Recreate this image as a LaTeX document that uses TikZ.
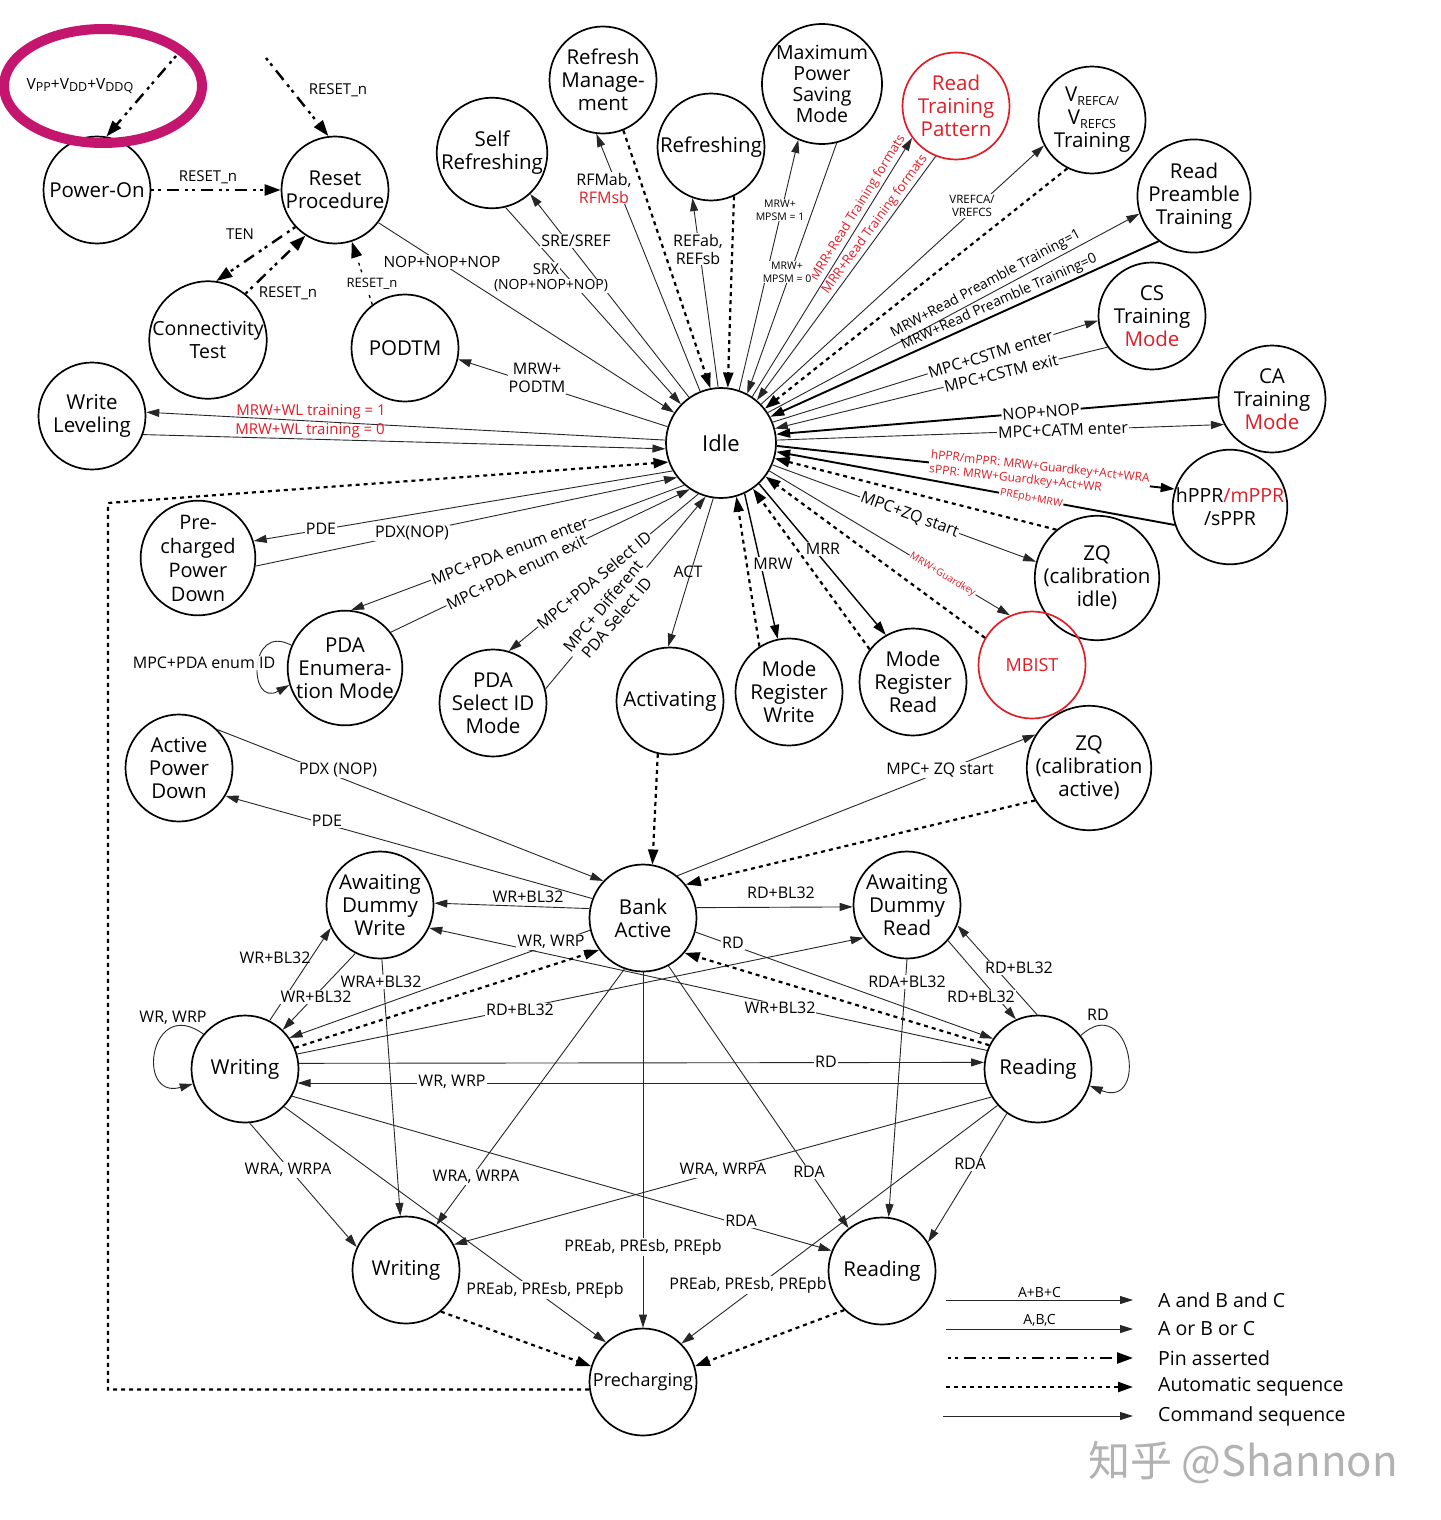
\documentclass[tikz,border=0pt]{standalone}
\usepackage{fontspec}
\setmainfont{Open Sans}
\newfontfamily\cjkf{Noto Sans CJK SC}
\usetikzlibrary{arrows.meta}
\definecolor{myred}{RGB}{225,30,40}
\definecolor{pinkm}{RGB}{196,22,110}
\newcommand\lsub[1]{\raisebox{-0.35ex}{\fontsize{12.5}{12.5}\selectfont #1}}
\tikzset{
 stn/.style={circle, draw, line width=1.7pt, minimum size=107pt, inner sep=0pt, align=center, font=\fontsize{20.5}{23}\selectfont},
 lab/.style={font=\fontsize{16}{18}\selectfont, fill=white, inner sep=1pt, align=center},
 labn/.style={font=\fontsize{16}{18}\selectfont, inner sep=1pt, align=center},
 labm/.style={font=\fontsize{15}{17}\selectfont, inner sep=1pt, align=center},
 labs/.style={font=\fontsize{10.5}{13}\selectfont, fill=white, inner sep=1pt, align=center},
 rlab/.style={font=\fontsize{13}{15}\selectfont, text=myred, inner sep=1pt},
 plab/.style={font=\fontsize{14}{16}\selectfont, inner sep=1pt},
 cmd/.style={line width=0.9pt, draw=black!85, -{Triangle[length=13pt,width=8pt]}},
 thk/.style={line width=1.9pt, draw=black, -{Triangle[length=14pt,width=9pt]}},
 mid/.style={line width=1.4pt, draw=black, -{Triangle[length=14pt,width=9pt]}},
 autoseq/.style={line width=2.2pt, dash pattern=on 4pt off 4pt, -{Triangle[length=15pt,width=10pt]}},
 pinas/.style={line width=2.4pt, dash pattern=on 3pt off 4pt on 3pt off 6pt on 12pt off 6pt, -{Triangle[length=16pt,width=11pt]}},
 pinthin/.style={pinas, line width=1.3pt},
}
\begin{document}
\begin{tikzpicture}[x=1pt,y=-1pt]
\useasboundingbox (0,0) rectangle (1440,1520);
\fill[white] (0,0) rectangle (1440,1520);

% ---------------- states
\node[stn] (pow) at (97,190) {Power-On};
\node[stn] (rst) at (335,190) {Reset\\Procedure};
\node[stn, font=\fontsize{19.5}{23}\selectfont] (con) at (208,340) {Connectivity\\Test};
\node[stn] (podtm) at (405,348) {PODTM};
\node[stn] (wl) at (92,416) {Write\\Leveling};
\node[stn] (sr) at (492,153) {Self\\Refreshing};
\node[stn] (rfm) at (603,80) {Refresh\\Manage-\\ment};
\node[stn] (ref) at (711,147) {Refreshing};
\node[stn, font=\fontsize{19.5}{21}\selectfont] (mpsm) at (822,84) {Maximum\\Power\\Saving\\Mode};
\node[stn, draw=myred, text=myred] (rtp) at (956,106) {Read\\Training\\Pattern};
\node[stn] (vref) at (1092,120) {V\lsub{REFCA/}\\V\lsub{REFCS}\\Training};
\node[stn] (rpt) at (1194,196) {Read\\Preamble\\Training};
\node[stn] (cs) at (1152,316) {CS\\Training\\\textcolor{myred}{Mode}};
\node[stn] (ca) at (1272,399) {CA\\Training\\\textcolor{myred}{Mode}};
\node[stn, font=\fontsize{19.5}{23}\selectfont] (ppr) at (1230,507) {hPPR\textcolor{myred}{/mPPR}\\/sPPR};
\node[stn] (zqi) at (1097,578) {ZQ\\(calibration\\idle)};
\node[stn, draw=myred, text=myred, font=\fontsize{18}{20}\selectfont] (mbist) at (1032,665) {MBIST};
\node[stn] (mrr) at (913,682) {Mode\\Register\\Read};
\node[stn] (mrw) at (789,692) {Mode\\Register\\Write};
\node[stn] (act) at (670,701) {Activating};
\node[stn] (pdas) at (493,703) {PDA\\Select ID\\Mode};
\node[stn] (pdae) at (345,668) {PDA\\Enumera-\\tion Mode};
\node[stn, font=\fontsize{20}{24}\selectfont] (ppd) at (198,558) {Pre-\\charged\\Power\\Down};
\node[stn, minimum size=110pt, font=\fontsize{22}{24}\selectfont] (idle) at (721,443) {Idle};
\node[stn] (apd) at (179,768) {Active\\Power\\Down};
\node[stn] (zqa) at (1089,768) {ZQ\\(calibration\\active)};
\node[stn] (adw) at (380,905) {Awaiting\\Dummy\\Write};
\node[stn] (ba) at (643,918) {Bank\\Active};
\node[stn] (adr) at (907,905) {Awaiting\\Dummy\\Read};
\node[stn] (wr) at (245,1069) {Writing};
\node[stn] (rd) at (1038,1069) {Reading};
\node[stn] (wb) at (406,1270) {Writing};
\node[stn] (rb) at (882,1271) {Reading};
\node[stn, font=\fontsize{18}{20}\selectfont] (pre) at (643,1382) {Precharging};

% ---------------- power-up / reset
\coordinate (c1) at (176,56);
\coordinate (c2) at (266,58);
\draw[pinas] (c1) -- (pow.80);
\draw[pinas] (c2) -- (rst.97);
\draw[pinas] (pow.0) -- (rst.180);
\draw[pinas] (rst.223) -- (con.82);
\draw[pinas] (con.51) -- (rst.237);
\draw[pinthin] (podtm.127) -- (rst.-72);
\draw[cmd] (rst.-37) -- (idle.147);
\draw[cmd] (idle.163) -- (podtm.-12);
\draw[cmd] (idle.177) -- (wl.4);
\draw[cmd] (wl.-20) -- (idle.-174);

% ---------------- idle fan (top)
\draw[cmd] (idle.125) -- (sr.-47);
\draw[cmd] (sr.-76) -- (idle.136);
\draw[cmd] (idle.112) -- (rfm.-97);
\draw[autoseq] (rfm.-68) -- (idle.101);
\draw[cmd] (idle.93) -- (ref.-110);
\draw[autoseq] (ref.-65) -- (idle.83);
\draw[cmd] (idle.71) -- (mpsm.-113);
\draw[cmd] (mpsm.-76) -- (idle.62);
\draw[cmd] (idle.56) -- node[pos=.71, sloped, above=1pt, rlab] (t19) {MRR+Read Training formats} (rtp.-144);
\draw[cmd] (rtp.-112) -- (idle.50);
\path (idle.50) -- node[pos=.70, sloped, above=1pt, rlab] (t20) {MRR+Read Training formats} (rtp.-112);
\draw[cmd] (idle.44) -- (vref.-152);
\draw[autoseq] (vref.-117) -- (idle.38);
\draw[cmd] (idle.33) -- node[pos=.60, sloped, above=2pt, plab] (t23) {MRW+Read Preamble Training=1} (rpt.-162);
\draw[thk] (rpt.-128) -- (idle.28);
\path (idle.28) -- node[pos=.60, sloped, above=2pt, plab] (t24) {MRW+Read Preamble Training=0} (rpt.-128);
\draw[cmd] (idle.22) -- node[pos=.67, sloped, lab] (t25) {MPC+CSTM enter} (cs.-175);
\draw[cmd] (cs.-145) -- (idle.15);
\path (idle.15) -- node[pos=.68, sloped, lab] (t26) {MPC+CSTM exit} (cs.-145);
\draw[thk] (ca.178) -- (idle.9);
\path (idle.9) -- node[pos=.60, sloped, lab] (t27) {NOP+NOP} (ca.178);
\draw[cmd] (idle.3) -- node[pos=.64, sloped, lab] (t28) {MPC+CATM enter} (ca.-152);

% ---------------- idle fan (right / bottom)
\draw[thk] (idle.-3) -- node[pos=.66, sloped, font=\fontsize{12}{14.5}\selectfont, text=myred, fill=white, inner sep=1pt, align=left] (t29) {hPPR/mPPR: MRW+Guardkey+Act+WRA\\sPPR: MRW+Guardkey+Act+WR} (ppr.162);
\draw[thk] (ppr.-162) -- (idle.-9);
\path (idle.-9) -- node[pos=.64, sloped, font=\fontsize{10.5}{12}\selectfont, text=myred, fill=white, inner sep=1pt] (t30) {PREpb+MRW} (ppr.-162);
\draw[autoseq] (zqi.130) -- (idle.-16);
\draw[cmd] (idle.-23) -- node[pos=.52, sloped, lab] (t31) {MPC+ZQ start} (zqi.165);
\draw[cmd] (idle.-30) -- node[pos=.72, sloped, font=\fontsize{10}{12}\selectfont, text=myred, fill=white, inner sep=1pt] (t32) {MRW+Guardkey} (mbist.114);
\draw[autoseq] (mbist.150) -- (idle.-37);
\draw[mid] (idle.-47) -- (mrr.120);
\draw[autoseq] (mrr.143) -- (idle.-55);
\draw[mid] (idle.-65) -- (mrw.102);
\draw[autoseq] (mrw.123) -- (idle.-74);
\draw[cmd] (idle.-98) -- (act.92);
\draw[autoseq] (act.-103) -- (ba.80);
\draw[cmd] (idle.-114) -- node[pos=.55, sloped, lab] (t41) {MPC+PDA Select ID} (pdas.73);
\draw[cmd] (pdas.15) -- node[pos=.40, sloped, lab] (t42) {MPC+ Different\\PDA Select ID} (idle.-106);
\draw[cmd] (idle.-131) -- node[pos=.524, sloped, lab] (t43) {MPC+PDA enum enter} (pdae.84);
\draw[cmd] (pdae.38) -- node[pos=.42, sloped, lab] (t44) {MPC+PDA enum exit} (idle.-124);
\draw[cmd] (pdae.157) .. controls (248,622) and (248,708) .. (pdae.197);
\draw[cmd] (idle.-150) -- (ppd.17);
\draw[cmd] (ppd.-8) -- (idle.-142);
\coordinate (lp) at (108,503);
\draw[autoseq] (pre.188) -| (lp) -- (idle.-160);

% ---------------- bank active area
\draw[cmd] (apd.45) -- (ba.137);
\draw[cmd] (ba.159) -- (apd.-31);
\draw[cmd] (ba.51) -- (zqa.148);
\draw[autoseq] (zqa.211) -- (ba.38);
\draw[cmd] (ba.170) -- (adw.2);
\draw[cmd] (wr.63) -- (adw.205);
\draw[cmd] (adw.243) -- (wr.46);
\draw[cmd] (adw.-88) -- (wb.96);
\draw[cmd] (rd.160) -- (adw.-25);
\draw[cmd] (ba.193) -- (wr.35);
\draw[autoseq] (wr.23) -- (ba.216);
\draw[cmd] (wr.16) -- (adr.217);
\draw[cmd] (wr.6.5) -- (rd.173.5);
\draw[cmd] (rd.195) -- (wr.-15);
\draw[cmd] (wr.140) .. controls (150,995) and (135,1100) .. (wr.196);
\draw[cmd] (ba.11) -- (adr.182);
\draw[cmd] (ba.-15) -- (rd.146);
\draw[autoseq] (rd.154) -- (ba.-40);
\draw[cmd] (rd.91) -- (adr.-22);
\draw[cmd] (adr.-41) -- (rd.114);
\draw[cmd] (adr.-90) -- (rb.83);
\draw[cmd] (rd.38) .. controls (1130,990) and (1150,1110) .. (rd.-18);
\draw[cmd] (wr.-85) -- (wb.155);
\draw[cmd] (ba.250) -- (wb.56);
\draw[cmd] (rd.211) -- (wb.28);
\draw[cmd] (wr.-30) -- (rb.158);
\draw[cmd] (ba.-62) -- (rb.128);
\draw[cmd] (rd.235) -- (rb.32);
\draw[cmd] (wr.-44) -- (pre.133);
\draw[cmd] (ba.270) -- (pre.90);
\draw[cmd] (rd.222) -- (pre.45);
\draw[autoseq] (wb.-50) -- (pre.163);
\draw[autoseq] (rb.226) -- (pre.17);

% ---------------- labels
\node[labm] (t1) at (338,90) {RESET\_n};
\node[labm] (t2) at (208,177) {RESET\_n};
\node[labm] (t3) at (240,234) {TEN};
\node[labm] (t4) at (288,293) {RESET\_n};
\node[lab, font=\fontsize{13}{15}\selectfont] (t5) at (372,284) {RESET\_n};
\node[lab, font=\fontsize{15.5}{17}\selectfont] (t6) at (442,262) {NOP+NOP+NOP};
\node[lab] (t7) at (537,378) {MRW+\\PODTM};
\node[labm, text=myred] (t8) at (311,412) {MRW+WL training = 1};
\node[labm, text=myred] (t9) at (310,431) {MRW+WL training = 0};
\node[lab] (t10) at (576,241) {SRE/SREF};
\node[lab, font=\fontsize{15}{17}\selectfont] (t11a) at (546,269) {SRX};
\node[lab, font=\fontsize{14}{16}\selectfont] (t11b) at (551,286) {(NOP+NOP+NOP)};
\node[lab] (t12) at (604,188) {RFMab,\\\textcolor{myred}{RFMsb}};
\node[lab] (t13) at (698,249) {REFab,\\REFsb};
\node[labs] (t14) at (780,210) {MRW+\\MPSM = 1};
\node[labs] (t15) at (787,272) {MRW+\\MPSM = 0};
\node[labs, font=\fontsize{11.5}{13}\selectfont] (t16) at (972,206) {VREFCA/\\VREFCS};
\node[lab] (t17) at (823,549) {MRR};
\node[lab] (t18) at (773,564) {MRW};
\node[labn] (t40) at (688,572) {ACT};
\node[lab] (t45) at (321,529) {PDE};
\node[lab] (t46) at (412,533) {PDX(NOP)};
\node[lab, fill opacity=0.85, text opacity=1] (t47) at (204,663) {MPC+PDA enum ID};
\node[lab] (t48) at (338,770) {PDX (NOP)};
\node[lab] (t49) at (327,821) {PDE};
\node[lab] (t50) at (940,770) {MPC+ ZQ start};
\node[labn] (t51) at (528,897) {WR+BL32};
\node[labn] (t52) at (781,893) {RD+BL32};
\node[lab] (t53) at (551,942) {WR, WRP};
\node[lab] (t54) at (733,943) {RD};
\node[labn] (t55) at (275,958) {WR+BL32};
\node[lab] (t56) at (381,982) {WRA+BL32};
\node[lab] (t57) at (316,997) {WR+BL32};
\node[lab] (t58) at (907,982) {RDA+BL32};
\node[lab] (t59) at (1019,968) {RD+BL32};
\node[lab] (t60) at (981,997) {RD+BL32};
\node[labn] (t61) at (173,1018) {WR, WRP};
\node[labn] (t62) at (1098,1015) {RD};
\node[lab] (t63) at (520,1010) {RD+BL32};
\node[lab] (t64) at (780,1008) {WR+BL32};
\node[lab] (t65) at (826,1062) {RD};
\node[lab] (t66) at (452,1082) {WR, WRP};
\node[lab] (t67) at (288,1170) {WRA, WRPA};
\node[lab] (t68) at (476,1177) {WRA, WRPA};
\node[lab] (t69) at (723,1170) {WRA, WRPA};
\node[lab] (t70) at (809,1172) {RDA};
\node[lab] (t71) at (970,1164) {RDA};
\node[lab] (t72) at (741,1221) {RDA};
\node[lab] (t73) at (643,1247) {PREab, PREsb, PREpb};
\node[lab] (t74) at (545,1290) {PREab, PREsb, PREpb};
\node[lab] (t75) at (748,1285) {PREab, PREsb, PREpb};

% ---------------- highlight ellipse
\draw[pinkm, line width=10pt] (103,86) ellipse [x radius=99, y radius=57];
\node[font=\fontsize{15.5}{17}\selectfont] (vin) at (80,86) {V\lsub{PP}+V\lsub{DD}+V\lsub{DDQ}};

% ---------------- legend
\coordinate (g1a) at (946,1300); \coordinate (g1b) at (1133,1300);
\coordinate (g2a) at (946,1329); \coordinate (g2b) at (1133,1329);
\coordinate (g3a) at (948,1358); \coordinate (g3b) at (1133,1358);
\coordinate (g4a) at (946,1387); \coordinate (g4b) at (1133,1387);
\coordinate (g5a) at (943,1416); \coordinate (g5b) at (1133,1416);
\draw[cmd] (g1a) -- node[above=1pt, font=\fontsize{14}{15}\selectfont, inner sep=1pt] (t80) {A+B+C} (g1b);
\draw[cmd] (g2a) -- node[above=1pt, font=\fontsize{14}{15}\selectfont, inner sep=1pt] (t81) {A,B,C} (g2b);
\draw[pinas] (g3a) -- (g3b);
\draw[autoseq] (g4a) -- (g4b);
\draw[cmd] (g5a) -- (g5b);
\begin{scope}[every node/.style={anchor=west, font=\fontsize{19.5}{21}\selectfont, inner sep=0pt}]
\node (t82) at (1158,1300) {A and B and C};
\node (t83) at (1158,1329) {A or B or C};
\node (t84) at (1158,1358) {Pin asserted};
\node (t85) at (1158,1387) {Automatic sequence};
\node (t86) at (1158,1416) {Command sequence};
\end{scope}

% ---------------- watermark
\node[text=black!30, font=\cjkf\fontsize{42}{46}\selectfont] (wm) at (1243,1462) {知乎 @Shannon};
\end{tikzpicture}
\end{document}
